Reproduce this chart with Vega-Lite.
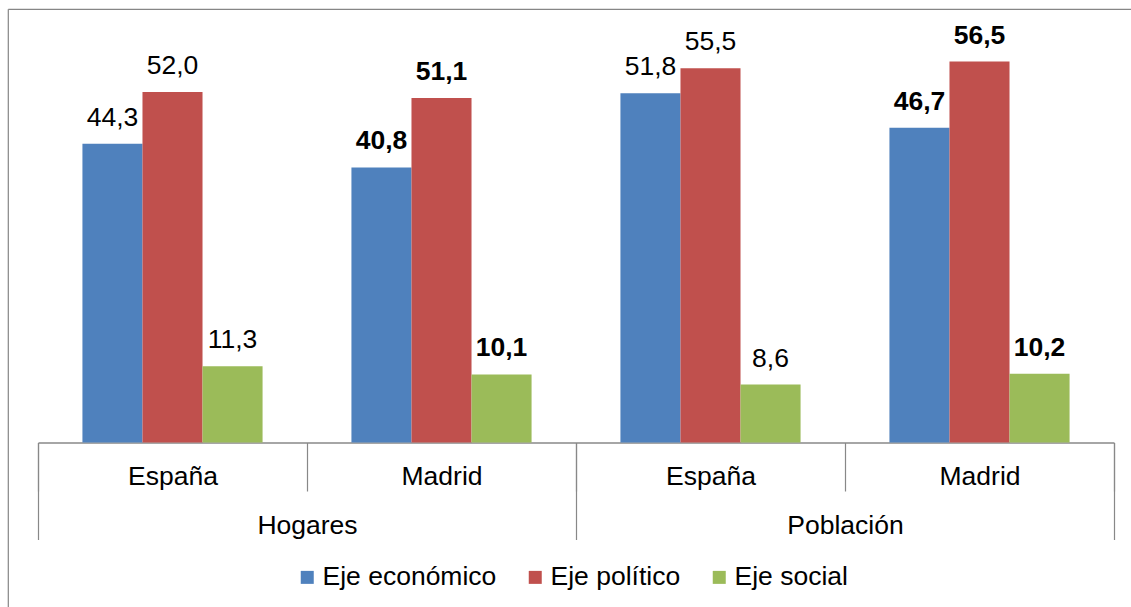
{
  "$schema": "https://vega.github.io/schema/vega-lite/v6.json",
  "width": 1076,
  "height": 404.5,
  "autosize": "none",
  "padding": {"left": 38, "top": 38, "right": 17, "bottom": 164.5},
  "config": {
    "font": "Liberation Sans",
    "view": {"stroke": null},
    "locale": {"number": {"decimal": ",", "thousands": ".", "grouping": [3], "currency": ["", " €"]}}
  },
  "datasets": {
    "d": [
      {"grupo": "Hogares", "lugar": "España", "cat": "Hogares|España", "serie": "Eje económico", "valor": 44.3},
      {"grupo": "Hogares", "lugar": "España", "cat": "Hogares|España", "serie": "Eje político", "valor": 52.0},
      {"grupo": "Hogares", "lugar": "España", "cat": "Hogares|España", "serie": "Eje social", "valor": 11.3},
      {"grupo": "Hogares", "lugar": "Madrid", "cat": "Hogares|Madrid", "serie": "Eje económico", "valor": 40.8},
      {"grupo": "Hogares", "lugar": "Madrid", "cat": "Hogares|Madrid", "serie": "Eje político", "valor": 51.1},
      {"grupo": "Hogares", "lugar": "Madrid", "cat": "Hogares|Madrid", "serie": "Eje social", "valor": 10.1},
      {"grupo": "Población", "lugar": "España", "cat": "Población|España", "serie": "Eje económico", "valor": 51.8},
      {"grupo": "Población", "lugar": "España", "cat": "Población|España", "serie": "Eje político", "valor": 55.5},
      {"grupo": "Población", "lugar": "España", "cat": "Población|España", "serie": "Eje social", "valor": 8.6},
      {"grupo": "Población", "lugar": "Madrid", "cat": "Población|Madrid", "serie": "Eje económico", "valor": 46.7},
      {"grupo": "Población", "lugar": "Madrid", "cat": "Población|Madrid", "serie": "Eje político", "valor": 56.5},
      {"grupo": "Población", "lugar": "Madrid", "cat": "Población|Madrid", "serie": "Eje social", "valor": 10.2}
    ]
  },
  "layer": [
    {
      "data": {"name": "d"},
      "encoding": {
        "x": {
          "field": "cat", "type": "nominal",
          "scale": {"domain": ["Hogares|España", "Hogares|Madrid", "Población|España", "Población|Madrid"], "paddingInner": 0, "paddingOuter": 0},
          "axis": {
            "orient": "bottom", "title": null, "labelAngle": 0,
            "labelExpr": "split(datum.label, '|')[1]",
            "tickBand": "extent", "tickSize": 48.5, "tickColor": "#888888", "tickWidth": 1.2,
            "domainColor": "#888888", "domainWidth": 1.5,
            "labelPadding": -7, "labelBaseline": "alphabetic",
            "labelFont": "Liberation Sans", "labelFontSize": 26.5, "labelColor": "#000000"
          }
        },
        "xOffset": {
          "field": "serie", "type": "nominal",
          "scale": {"domain": ["Eje económico", "Eje político", "Eje social"], "paddingInner": 0, "paddingOuter": 0.74}
        },
        "y": {"field": "valor", "type": "quantitative", "scale": {"domain": [0, 60], "nice": false, "zero": true}, "axis": null}
      },
      "layer": [
        {
          "mark": {"type": "bar"},
          "encoding": {
            "y2": {"datum": 0},
            "color": {
              "field": "serie", "type": "nominal",
              "scale": {"domain": ["Eje económico", "Eje político", "Eje social"], "range": ["#4F81BD", "#C0504D", "#9BBB59"]},
              "legend": {
                "title": null, "orient": "none", "direction": "horizontal",
                "legendX": 256, "legendY": 526,
                "symbolType": "square", "symbolSize": 169, "symbolStrokeWidth": 0,
                "labelFont": "Liberation Sans", "labelFontSize": 26.5, "labelColor": "#000000",
                "labelLimit": 0, "labelOffset": 2, "columnPadding": 25
              }
            }
          }
        },
        {
          "transform": [{"filter": "datum.lugar === 'España'"}],
          "mark": {"type": "text", "baseline": "alphabetic", "dy": -18, "fontSize": 26.5, "font": "Liberation Sans", "color": "#000000"},
          "encoding": {"text": {"field": "valor", "type": "quantitative", "format": ".1f"}}
        },
        {
          "transform": [{"filter": "datum.lugar === 'Madrid'"}],
          "mark": {"type": "text", "baseline": "alphabetic", "dy": -18, "fontSize": 26.5, "fontWeight": "bold", "font": "Liberation Sans", "color": "#000000"},
          "encoding": {"text": {"field": "valor", "type": "quantitative", "format": ".1f"}}
        }
      ]
    },
    {
      "data": {"name": "d"},
      "mark": {"type": "rule", "opacity": 0},
      "encoding": {
        "x": {
          "field": "grupo", "type": "nominal",
          "scale": {"domain": ["Hogares", "Población"], "paddingInner": 0, "paddingOuter": 0},
          "axis": {
            "orient": "bottom", "title": null, "labelAngle": 0,
            "tickBand": "extent", "tickSize": 97, "tickColor": "#888888", "tickWidth": 1.2,
            "domain": false,
            "labelPadding": -6, "labelBaseline": "alphabetic",
            "labelFont": "Liberation Sans", "labelFontSize": 26.5, "labelColor": "#000000"
          }
        }
      }
    },
    {
      "data": {"values": [{}]},
      "mark": {"type": "rule", "color": "#868686", "strokeWidth": 1.2},
      "encoding": {
        "x": {"datum": -0.0276, "type": "quantitative", "scale": {"domain": [0, 1], "nice": false, "zero": false}, "axis": null},
        "x2": {"datum": 1.02},
        "y": {"datum": 64.26, "type": "quantitative", "scale": {"domain": [0, 60], "nice": false}, "axis": null}
      }
    },
    {
      "data": {"values": [{}]},
      "mark": {"type": "rule", "color": "#868686", "strokeWidth": 1.2},
      "encoding": {
        "x": {"datum": -0.0276, "type": "quantitative", "scale": {"domain": [0, 1], "nice": false, "zero": false}, "axis": null},
        "y": {"datum": 64.26, "type": "quantitative", "scale": {"domain": [0, 60], "nice": false}, "axis": null},
        "y2": {"datum": -30}
      }
    }
  ],
  "resolve": {"scale": {"x": "independent"}, "axis": {"x": "independent"}}
}
